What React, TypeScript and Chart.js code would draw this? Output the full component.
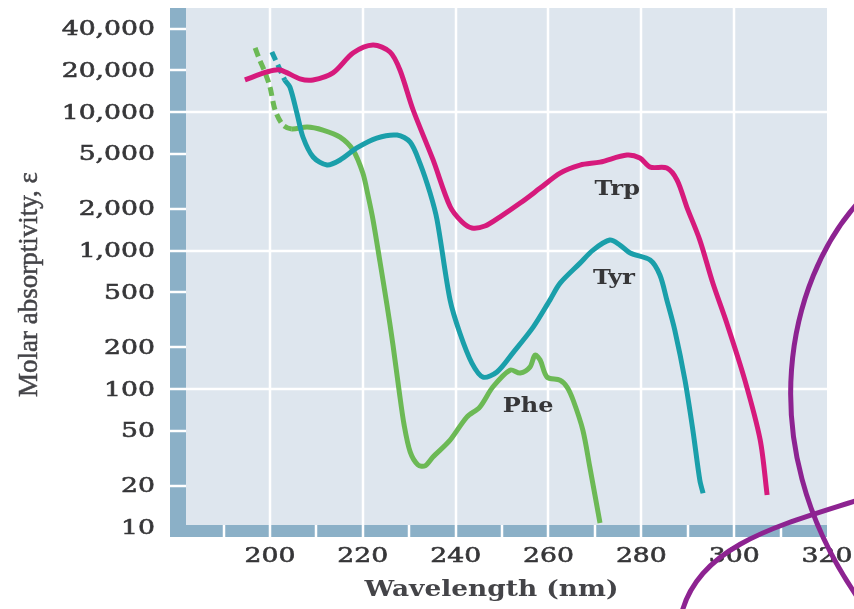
import React, { useEffect, useRef } from "react";
import { Chart, registerables } from "chart.js";

Chart.register(...registerables);

// ---------- data ----------
const trpX = [194.6, 199.35, 202.15, 206.46, 209.26, 213.57, 217.88, 222.19, 225.85, 228.0, 230.8, 235.1, 238.8, 241.4, 243.5, 246.3, 249.5, 253.9, 258.2, 262.5, 266.8, 271.1, 276.9, 279.7, 281.9, 285.5, 287.7, 289.8, 292.6, 295.4, 298.4, 302.3, 305.6, 307.1];
const trpY = [17060, 19500, 20160, 17380, 17060, 19180, 26700, 30500, 27150, 20150, 10440, 4550, 2082, 1607, 1456, 1504, 1746, 2203, 2826, 3628, 4143, 4355, 4895, 4655, 4007, 3943, 3228, 2061, 1191, 583, 300, 116, 43, 17.2];

const tyrX = [200.4, 201.7, 203.2, 204.3, 205.8, 207.1, 209.3, 212.3, 215.1, 218.7, 223.0, 227.4, 230.2, 232.3, 234.5, 236.0, 238.8, 240.9, 243.5, 245.9, 248.9, 252.3, 256.7, 260.3, 262.5, 266.8, 269.6, 273.2, 275.4, 277.6, 281.9, 284.0, 285.5, 287.2, 289.4, 291.1, 292.6, 293.3];
const tyrY = [27170, 21900, 17030, 15160, 9840, 6610, 4740, 4150, 4510, 5510, 6495, 6825, 6070, 4285, 2600, 1660, 439, 254, 154, 122, 133, 182, 280, 439, 582, 812, 1008, 1191, 1096, 960, 855, 666, 439, 267, 116, 50.6, 22, 17.7];
const tyrDashEnd = 203.2;

const pheX = [196.8, 197.8, 198.9, 200.0, 201.1, 202.8, 204.7, 208.0, 211.4, 215.1, 217.9, 220.0, 221.1, 222.2, 223.7, 225.2, 226.5, 227.8, 228.9, 230.2, 231.9, 233.4, 235.1, 238.8, 242.4, 245.2, 248.0, 251.7, 253.9, 256.0, 257.1, 258.2, 259.7, 262.5, 264.0, 265.3, 267.4, 268.9, 271.1];
const pheY = [29040, 23720, 19440, 15160, 10350, 8070, 7550, 7800, 7420, 6600, 5320, 3630, 2518, 1663, 828, 405, 208, 98.4, 55, 35.2, 28.3, 27.9, 32.3, 42.8, 62.8, 74.2, 103.5, 137, 130.5, 144, 176, 162, 122, 116, 103.5, 83.4, 50.6, 27.4, 10.8];
const pheDashEnd = 204.7;

const xTicks = [200, 220, 240, 260, 280, 300, 320];
const xTickLabels = ["200", "220", "240", "260", "280", "300", "320"];
const xMinorTicks = [190, 210, 230, 250, 270, 290, 310];
const yTicks = [10, 20, 50, 100, 200, 500, 1000, 2000, 5000, 10000, 20000, 40000];
const yTickLabels = ["10", "20", "50", "100", "200", "500", "1,000", "2,000", "5,000", "10,000", "20,000", "40,000"];
const yMajorGrid = [100, 1000, 10000];

const seriesNames = ["Trp", "Tyr", "Phe"];
const labelX = [274.8, 274.1, 255.6];
const labelY = [2740, 624, 74.3];

const xTitle = "Wavelength (nm)";
const yTitle = "Molar absorptivity, \u03B5";

// ---------- styles ----------
const COLORS = { trp: "#d61a7c", tyr: "#1a9faa", phe: "#6cb955" };
const BG = "#dee6ee";
const BAR = "#8bb0c7";
const TEXT = "#363638";
const SERIF = "'DejaVu Serif', serif";

function stretchedText(
  ctx: CanvasRenderingContext2D,
  text: string,
  x: number,
  y: number,
  font: string,
  sx: number,
  align: "left" | "center" | "right",
  color: string,
  stroke = 0
) {
  ctx.save();
  ctx.font = font;
  ctx.fillStyle = color;
  ctx.strokeStyle = color;
  ctx.textBaseline = "middle";
  ctx.textAlign = "left";
  const w = ctx.measureText(text).width * sx;
  const left = align === "center" ? x - w / 2 : align === "right" ? x - w : x;
  ctx.translate(left, y);
  ctx.scale(sx, 1);
  ctx.fillText(text, 0, 0);
  if (stroke > 0) {
    ctx.lineWidth = stroke;
    ctx.strokeText(text, 0, 0);
  }
  ctx.restore();
}

const LEFT_BAR = 16;
const BOTTOM_BAR = 12;

const framePlugin = {
  id: "frame",
  beforeDatasetsDraw(chart: any) {
    const { ctx, chartArea: a, scales } = chart;
    const xs = scales.x;
    const ys = scales.y;
    ctx.save();
    ctx.fillStyle = BG;
    ctx.fillRect(a.left + LEFT_BAR, a.top, a.right - a.left - LEFT_BAR, a.bottom - a.top - BOTTOM_BAR);
    ctx.fillStyle = BAR;
    ctx.fillRect(a.left, a.top, LEFT_BAR, a.bottom - a.top);
    ctx.fillRect(a.left, a.bottom - BOTTOM_BAR, a.right - a.left, BOTTOM_BAR);
    ctx.strokeStyle = "#ffffff";
    ctx.lineWidth = 2.5;
    xTicks.forEach((v) => {
      if (v >= xs.max) return;
      const px = Math.round(xs.getPixelForValue(v));
      ctx.beginPath();
      ctx.moveTo(px, a.top);
      ctx.lineTo(px, a.bottom);
      ctx.stroke();
    });
    xMinorTicks.forEach((v) => {
      const px = Math.round(xs.getPixelForValue(v));
      ctx.beginPath();
      ctx.moveTo(px, a.bottom - BOTTOM_BAR);
      ctx.lineTo(px, a.bottom);
      ctx.stroke();
    });
    yTicks.forEach((v) => {
      if (v <= 10) return;
      const py = Math.round(ys.getPixelForValue(v));
      const major = yMajorGrid.includes(v);
      ctx.beginPath();
      ctx.moveTo(a.left, py);
      ctx.lineTo(major ? a.right : a.left + LEFT_BAR, py);
      ctx.stroke();
    });
    ctx.restore();
  },
  afterDatasetsDraw(chart: any) {
    const { ctx, chartArea: a, scales } = chart;
    const xs = scales.x;
    const ys = scales.y;
    seriesNames.forEach((n, i) => {
      stretchedText(ctx, n, xs.getPixelForValue(labelX[i]), ys.getPixelForValue(labelY[i]), `bold 20px ${SERIF}`, 1.2, "center", TEXT);
    });
    yTicks.forEach((v, i) => {
      stretchedText(ctx, yTickLabels[i], a.left - 15, ys.getPixelForValue(v) + 1, `21px ${SERIF}`, 1.27, "right", TEXT, 0.6);
    });
    xTicks.forEach((v, i) => {
      stretchedText(ctx, xTickLabels[i], xs.getPixelForValue(v), a.bottom + 20, `21px ${SERIF}`, 1.27, "center", TEXT, 0.6);
    });
    stretchedText(ctx, xTitle, (a.left + a.right) / 2 - 7, a.bottom + 53, `bold 22px ${SERIF}`, 1.2, "center", "#444448");
    ctx.save();
    ctx.translate(30, (a.top + a.bottom) / 2 + 12);
    ctx.rotate(-Math.PI / 2);
    ctx.font = "27px 'Liberation Serif', serif";
    ctx.fillStyle = "#444448";
    ctx.strokeStyle = "#444448";
    ctx.lineWidth = 0.5;
    ctx.textAlign = "center";
    ctx.textBaseline = "middle";
    ctx.fillText(yTitle, 0, 0);
    ctx.strokeText(yTitle, 0, 0);
    ctx.restore();
    // hand-drawn annotation
    ctx.save();
    ctx.strokeStyle = "#8d2391";
    ctx.lineWidth = 5;
    ctx.lineCap = "round";
    ctx.beginPath();
    ctx.moveTo(856, 205);
    ctx.bezierCurveTo(790, 280, 750, 440, 856, 595);
    ctx.stroke();
    ctx.beginPath();
    ctx.moveTo(682, 612);
    ctx.bezierCurveTo(700, 545, 780, 525, 858, 500);
    ctx.stroke();
    ctx.restore();
  },
};

function toPoints(xs: number[], ys: number[]) {
  return xs.map((x, i) => ({ x, y: ys[i] }));
}

function dashAfter(end: number | null) {
  return (ctx: any) => (end !== null && ctx.p1.parsed.x <= end ? [9, 5] : undefined);
}

export default function App() {
  const ref = useRef<HTMLCanvasElement | null>(null);
  useEffect(() => {
    document.body.style.margin = "0";
    const canvas = ref.current;
    if (!canvas) return;
    const mk = (label: string, xs: number[], ys: number[], color: string, dashEnd: number | null) => ({
      label,
      data: toPoints(xs, ys),
      borderColor: color,
      backgroundColor: color,
      borderWidth: 5,
      pointRadius: 0,
      fill: false,
      tension: 0.3,
      borderJoinStyle: "round" as const,
      borderCapStyle: "butt" as const,
      segment: { borderDash: dashAfter(dashEnd) },
    });
    const chart = new Chart(canvas, {
      type: "line",
      data: {
        datasets: [
          mk("Trp", trpX, trpY, COLORS.trp, null),
          mk("Tyr", tyrX, tyrY, COLORS.tyr, tyrDashEnd),
          mk("Phe", pheX, pheY, COLORS.phe, pheDashEnd),
        ],
      },
      options: {
        responsive: false,
        animation: false,
        layout: { padding: { left: 170, right: 27, top: 8, bottom: 72 } },
        plugins: { legend: { display: false }, tooltip: { enabled: false } },
        scales: {
          x: { type: "linear", min: 178.46, max: 320, display: false },
          y: { type: "logarithmic", min: 8.55, max: 56450, display: false },
        },
      },
      plugins: [framePlugin],
    });
    return () => chart.destroy();
  }, []);
  return (
    <div style={{ width: 854, height: 609, background: "#ffffff" }}>
      <canvas ref={ref} width={854} height={609} />
    </div>
  );
}
